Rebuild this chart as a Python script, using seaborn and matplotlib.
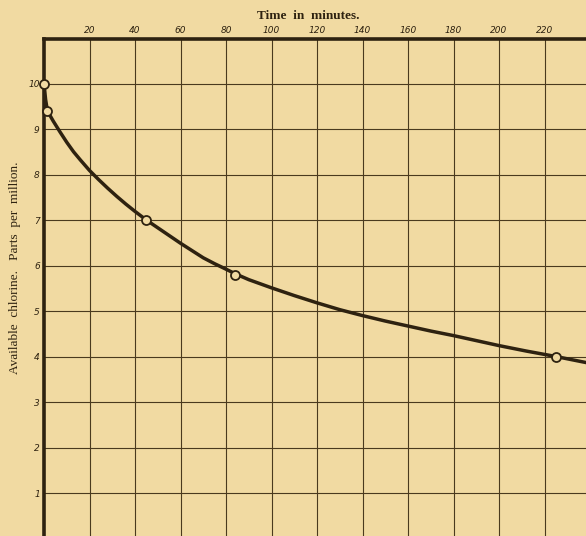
import numpy as np
import pandas as pd
import matplotlib
matplotlib.use('Agg')
import matplotlib.pyplot as plt
import seaborn as sns

# measured points (open circles)
obs_time = [0, 1.5, 45, 84, 225]
obs_chlorine = [10.0, 9.4, 7.0, 5.8, 4.0]

# smooth curve
curve_time = [0, 0.7, 1.5, 4, 7, 10, 13, 16, 20, 24, 28, 32, 36, 40, 45, 50, 55, 60, 65,
              70, 75, 80, 84, 90, 100, 110, 120, 130, 140, 150, 160, 170, 180, 190, 200,
              212, 225, 239]
curve_chlorine = [10.0, 9.65, 9.4, 9.18, 8.94, 8.71, 8.5, 8.32, 8.09, 7.89, 7.7, 7.52,
                  7.35, 7.19, 7.0, 6.83, 6.66, 6.49, 6.33, 6.17, 6.04, 5.92, 5.82, 5.69,
                  5.51, 5.34, 5.18, 5.03, 4.9, 4.78, 4.67, 4.56, 4.46, 4.35, 4.24, 4.12,
                  4.0, 3.86]

x_ticks = [20, 40, 60, 80, 100, 120, 140, 160, 180, 200, 220]
y_ticks = [1, 2, 3, 4, 5, 6, 7, 8, 9, 10]

paper = '#f1daa2'
ink = '#2e2210'
grid_ink = '#4a3a1e'

sns.set_theme(style='white')
plt.rcParams['font.family'] = ['DejaVu Sans']

fig = plt.figure(figsize=(5.86, 5.36), dpi=100, facecolor=paper)
ax = fig.add_axes([44 / 586, 0, 1 - 44 / 586, 1 - 39 / 536])
ax.set_facecolor(paper)

curve = pd.DataFrame({'t': curve_time, 'c': curve_chlorine})
obs = pd.DataFrame({'t': obs_time, 'c': obs_chlorine})

sns.lineplot(data=curve, x='t', y='c', ax=ax, color=ink, linewidth=2.5,
             sort=True, zorder=3)
sns.scatterplot(data=obs, x='t', y='c', ax=ax, s=42, facecolor=paper,
                edgecolor=ink, linewidth=1.3, zorder=4, clip_on=False)

ax.set_xlim(0, 238.2)
ax.set_ylim(0.055, 10.98)

ax.set_xticks(x_ticks)
ax.set_yticks(y_ticks)
ax.set_xticklabels([str(v) for v in x_ticks], fontsize=6.5, style='italic', color=ink)
ax.set_yticklabels([str(v) for v in y_ticks], fontsize=6.5, style='italic', color=ink)
ax.xaxis.tick_top()
ax.tick_params(axis='both', length=0, pad=3)

ax.grid(True, color=grid_ink, linewidth=0.8)
ax.set_axisbelow(True)

for side in ['right', 'bottom']:
    ax.spines[side].set_visible(False)
for side in ['top', 'left']:
    ax.spines[side].set_color(ink)
    ax.spines[side].set_linewidth(2.6)

ax.set_xlabel('')
ax.set_ylabel('')
fig.text(308 / 586, 1 - 16 / 536, 'Time  in  minutes.', ha='center', va='center',
         fontsize=9.5, family='Liberation Serif', weight='bold', color=ink)
fig.text(15 / 586, 1 - 268 / 536, 'Available  chlorine.   Parts  per  million.',
         ha='center', va='center', rotation=90, fontsize=9.5,
         family='Liberation Serif', color=ink)

fig.savefig('out.png', dpi=100, facecolor=paper)
